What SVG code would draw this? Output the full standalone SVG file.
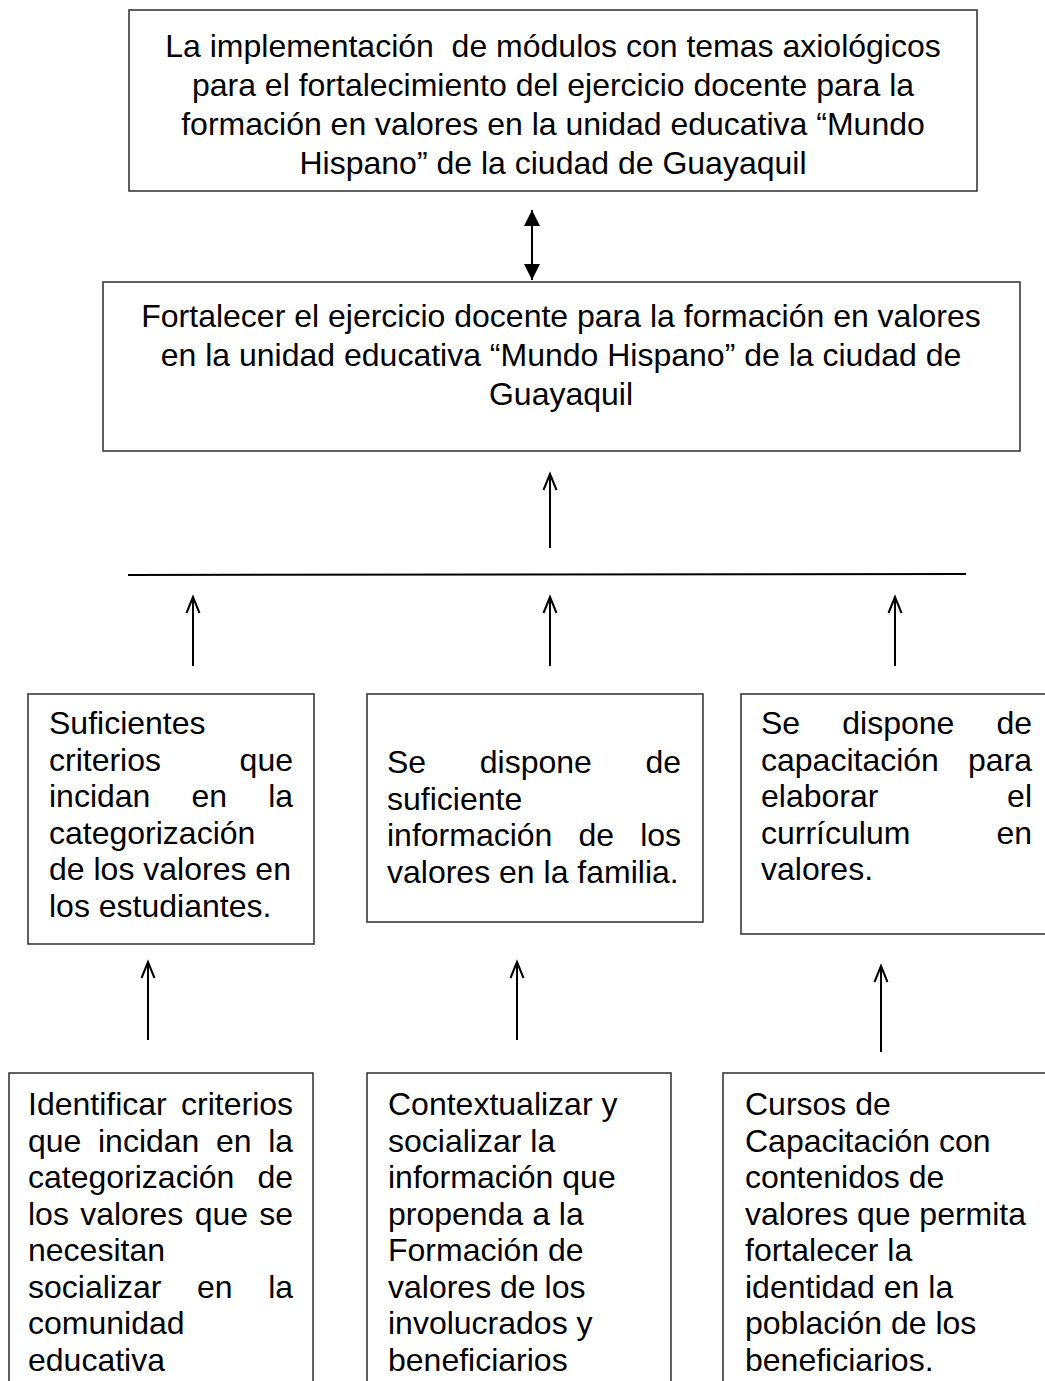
<svg xmlns="http://www.w3.org/2000/svg" width="1045" height="1381" viewBox="0 0 1045 1381">
<defs>
<style>
.box{fill:#fff;stroke:#3a3a3a;stroke-width:1.6}
.t{font-family:"Liberation Sans",Arial,sans-serif;font-size:32px;fill:#000;white-space:pre}
.c{text-anchor:middle}
.ln{stroke:#000;stroke-width:2;fill:none}
</style>
<marker id="open" markerUnits="userSpaceOnUse" markerWidth="22" markerHeight="22" viewBox="-19 -11 22 22" refX="0" refY="0" orient="auto" overflow="visible">
<path d="M -16 -6.5 L 0 0 L -16 6.5" fill="none" stroke="#000" stroke-width="2"/>
</marker>
<marker id="solid" markerUnits="userSpaceOnUse" markerWidth="22" markerHeight="22" viewBox="-18 -11 22 22" refX="0" refY="0" orient="auto-start-reverse" overflow="visible">
<path d="M -16 -8 L 0 0 L -16 8 Z" fill="#000"/>
</marker>
</defs>
<rect width="1045" height="1381" fill="#fff"/>

<g id="n-top">
<rect class="box" x="129" y="10" width="848" height="181"/>
<text class="t c" x="553" y="57" xml:space="preserve">La implementación  de módulos con temas axiológicos</text>
<text class="t c" x="553" y="96">para el fortalecimiento del ejercicio docente para la</text>
<text class="t c" x="553" y="135">formación en valores en la unidad educativa “Mundo</text>
<text class="t c" x="553" y="174">Hispano” de la ciudad de Guayaquil</text>
</g>

<g id="n-obj">
<rect class="box" x="103" y="282" width="917" height="169"/>
<text class="t c" x="561" y="327">Fortalecer el ejercicio docente para la formación en valores</text>
<text class="t c" x="561" y="366">en la unidad educativa “Mundo Hispano” de la ciudad de</text>
<text class="t c" x="561" y="405">Guayaquil</text>
</g>

<g id="n-r1">
<rect class="box" x="28" y="694" width="286" height="250"/>
<text class="t" x="49" y="734">Suficientes</text>
<text class="t" x="49" y="770.6" word-spacing="69.7">criterios que</text>
<text class="t" x="49" y="807.2" word-spacing="32.2">incidan en la</text>
<text class="t" x="49" y="843.8">categorización</text>
<text class="t" x="49" y="880.4">de los valores en</text>
<text class="t" x="49" y="917">los estudiantes.</text>
</g>

<g id="n-r2">
<rect class="box" x="367" y="694" width="336" height="228"/>
<text class="t" x="387" y="773" word-spacing="44.7">Se dispone de</text>
<text class="t" x="387" y="809.6">suficiente</text>
<text class="t" x="387" y="846.2" word-spacing="17.2">información de los</text>
<text class="t" x="387" y="882.8">valores en la familia.</text>
</g>

<g id="n-r3">
<rect class="box" x="741" y="694" width="312" height="240"/>
<text class="t" x="761" y="734" word-spacing="33.2">Se dispone de</text>
<text class="t" x="761" y="770.6" word-spacing="20.2">capacitación para</text>
<text class="t" x="761" y="807.2" word-spacing="119.8">elaborar el</text>
<text class="t" x="761" y="843.8" word-spacing="77.2">currículum en</text>
<text class="t" x="761" y="880.4">valores.</text>
</g>

<g id="n-b1">
<rect class="box" x="9" y="1073" width="304" height="330"/>
<text class="t" x="28" y="1115" word-spacing="5.4">Identificar criterios</text>
<text class="t" x="28" y="1151.5" word-spacing="7.7">que incidan en la</text>
<text class="t" x="28" y="1188" word-spacing="14.2">categorización de</text>
<text class="t" x="28" y="1224.5" word-spacing="2.4">los valores que se</text>
<text class="t" x="28" y="1261">necesitan</text>
<text class="t" x="28" y="1297.5" word-spacing="26.7">socializar en la</text>
<text class="t" x="28" y="1334">comunidad</text>
<text class="t" x="28" y="1370.5">educativa</text>
</g>

<g id="n-b2">
<rect class="box" x="367" y="1073" width="304" height="330"/>
<text class="t" x="388" y="1115">Contextualizar y</text>
<text class="t" x="388" y="1151.5">socializar la</text>
<text class="t" x="388" y="1188">información que</text>
<text class="t" x="388" y="1224.5">propenda a la</text>
<text class="t" x="388" y="1261">Formación de</text>
<text class="t" x="388" y="1297.5">valores de los</text>
<text class="t" x="388" y="1334">involucrados y</text>
<text class="t" x="388" y="1370.5">beneficiarios</text>
</g>

<g id="n-b3">
<rect class="box" x="723" y="1073" width="330" height="330"/>
<text class="t" x="745" y="1115">Cursos de</text>
<text class="t" x="745" y="1151.5">Capacitación con</text>
<text class="t" x="745" y="1188">contenidos de</text>
<text class="t" x="745" y="1224.5">valores que permita</text>
<text class="t" x="745" y="1261">fortalecer la</text>
<text class="t" x="745" y="1297.5">identidad en la</text>
<text class="t" x="745" y="1334">población de los</text>
<text class="t" x="745" y="1370.5">beneficiarios.</text>
</g>

<g id="connectors">
<line class="ln" x1="532" y1="210" x2="532" y2="280" marker-start="url(#solid)" marker-end="url(#solid)"/>
<line class="ln" x1="550" y1="548" x2="550" y2="474" marker-end="url(#open)"/>
<line class="ln" x1="128" y1="575" x2="966" y2="574" stroke-width="2.5"/>
<line class="ln" x1="193" y1="666" x2="193" y2="597" marker-end="url(#open)"/>
<line class="ln" x1="550" y1="666" x2="550" y2="597" marker-end="url(#open)"/>
<line class="ln" x1="895" y1="666" x2="895" y2="597" marker-end="url(#open)"/>
<line class="ln" x1="148" y1="1040" x2="148" y2="962" marker-end="url(#open)"/>
<line class="ln" x1="517" y1="1040" x2="517" y2="962" marker-end="url(#open)"/>
<line class="ln" x1="881" y1="1052" x2="881" y2="966" marker-end="url(#open)"/>
</g>
</svg>
